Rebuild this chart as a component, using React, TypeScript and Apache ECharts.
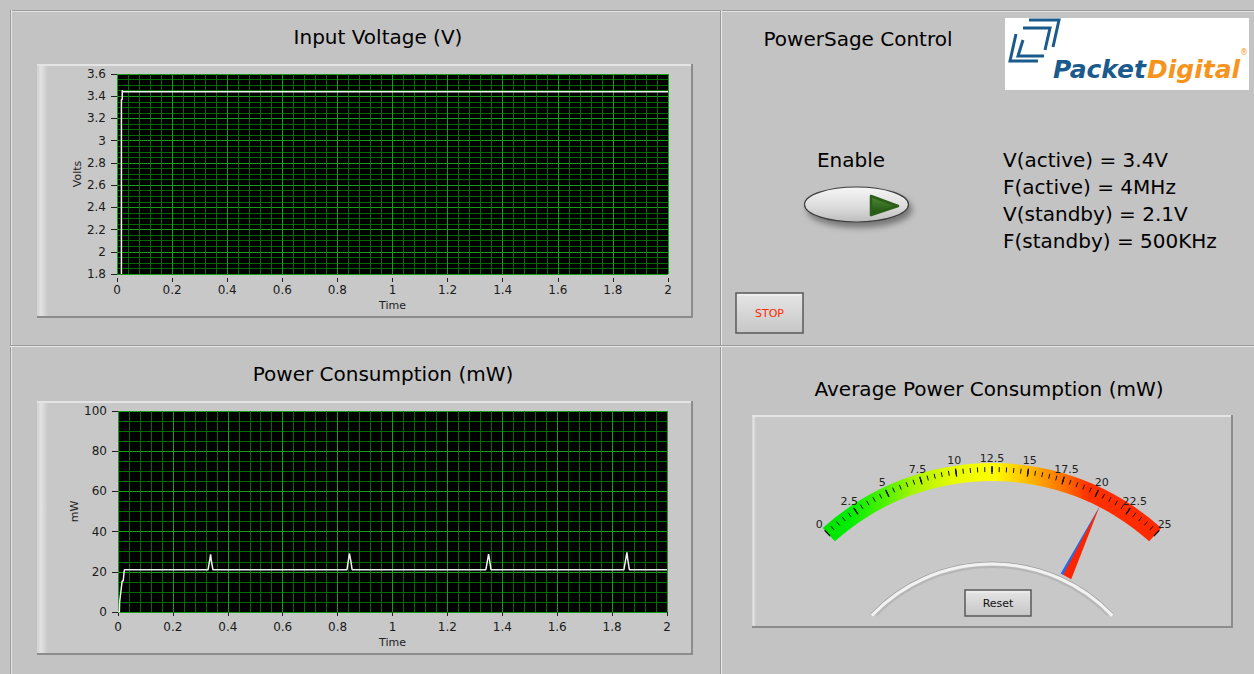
import React, { useEffect, useRef } from 'react';
import * as echarts from 'echarts';

// ---------- data ----------
const voltTime = [0.016, 0.016, 0.019, 0.019, 0.021, 2];
const voltValue = [1.8, 3.37, 3.37, 3.455, 3.44, 3.44];

const powerTime = [0, 0.005, 0.006, 0.015, 0.019, 0.023, 0.328, 0.3375, 0.34, 0.346, 0.834, 0.843, 0.848, 0.853, 1.34, 1.35, 1.354, 1.359, 1.843, 1.854, 1.857, 1.863, 2];
const powerValue = [0, 0, 5, 15.4, 15.4, 21, 21, 28.7, 25.5, 21, 21, 29.1, 25.6, 21, 21, 28.8, 25.5, 21, 21, 29.7, 26.2, 21, 21];

const gaugeValue = 20.8;
const gaugeMin = 0;
const gaugeMax = 25;

const timeRange = [0, 2, 0.2, 0.04]; // min, max, major, minor
const voltRange = [1.8, 3.6, 0.2, 0.05];
const powerRange = [0, 100, 20, 5];

const settingLines = ['V(active) = 3.4V', 'F(active) = 4MHz', 'V(standby) = 2.1V', 'F(standby) = 500KHz'];

const titles = {
  voltage: 'Input Voltage (V)',
  power: 'Power Consumption (mW)',
  control: 'PowerSage Control',
  average: 'Average Power Consumption (mW)',
};

// ---------- styles ----------
const FONT = '"DejaVu Sans", Verdana, sans-serif';
const LG = echarts.graphic.LinearGradient;
const MAJOR_GRID = '#12a012';
const MINOR_GRID = '#006c00';

function bezel(x: number, y: number, w: number, h: number, strip = 11) {
  return [
    { type: 'rect', z: -10, shape: { x, y, width: w, height: h }, style: { fill: '#c8c8c8' } },
    {
      type: 'rect', z: -9, shape: { x, y, width: strip, height: h },
      style: { fill: new LG(0, 0, 1, 0, [{ offset: 0, color: '#d0d0d0' }, { offset: 0.35, color: '#e2e2e2' }, { offset: 1, color: '#c8c8c8' }]) },
    },
    { type: 'line', z: -8, shape: { x1: x, y1: y + 1, x2: x + w, y2: y + 1 }, style: { stroke: '#e4e4e4', lineWidth: 2 } },
    { type: 'line', z: -8, shape: { x1: x + w - 1, y1: y, x2: x + w - 1, y2: y + h }, style: { stroke: '#8c8c8c', lineWidth: 2 } },
    { type: 'line', z: -8, shape: { x1: x, y1: y + h - 1, x2: x + w, y2: y + h - 1 }, style: { stroke: '#8c8c8c', lineWidth: 2 } },
  ];
}

function text(x: number, y: number, t: string, size: number, opts: any = {}) {
  return {
    type: 'text', z: 10, x, y,
    style: {
      text: t, fill: opts.fill || '#000',
      font: `${opts.style || 'normal'} ${opts.weight || 'normal'} ${size}px ${opts.family || FONT}`,
      align: opts.align || 'center', verticalAlign: 'middle',
    },
  };
}

function button(x: number, y: number, w: number, h: number, label: string, color: string, size: number) {
  return [
    {
      type: 'rect', z: 10, shape: { x, y, width: w, height: h },
      style: {
        fill: new LG(0, 0, 0, 1, [{ offset: 0, color: '#e6e6e6' }, { offset: 1, color: '#c6c6c6' }]),
        stroke: '#5a5a5a', lineWidth: 1.5,
      },
    },
    { type: 'line', z: 10, shape: { x1: x + 2, y1: y + 2, x2: x + w - 2, y2: y + 2 }, style: { stroke: '#f4f4f4', lineWidth: 1 } },
    text(x + w / 2, y + h / 2, label, size, { fill: color }),
  ];
}

const gridBase = { show: true, backgroundColor: '#000', borderWidth: 0 };

// minor grid axes come first so that the major grid lines are drawn over them
function minorAxis(gridIndex: number, range: number[], position: string) {
  return {
    type: 'value', gridIndex, position, min: range[0], max: range[1], interval: range[3],
    axisLine: { show: false }, axisTick: { show: false }, axisLabel: { show: false },
    splitLine: { show: true, lineStyle: { color: MINOR_GRID, width: 1 } },
  };
}

function xAxisFor(gridIndex: number, offset: number) {
  return {
    type: 'value', gridIndex, position: 'bottom', min: timeRange[0], max: timeRange[1], interval: timeRange[2], offset,
    name: 'Time', nameLocation: 'middle', nameGap: 22,
    nameTextStyle: { color: '#222', fontSize: 11, fontFamily: FONT },
    axisLine: { show: false },
    axisTick: { show: true, length: 4, lineStyle: { color: '#222', width: 1 } },
    axisLabel: { color: '#1a1a1a', fontSize: 12, fontFamily: FONT, margin: 6 },
    splitLine: { show: true, lineStyle: { color: MAJOR_GRID, width: 1 } },
  };
}

function yAxisFor(gridIndex: number, range: number[], name: string) {
  return {
    type: 'value', gridIndex, position: 'left', min: range[0], max: range[1], interval: range[2], offset: 3,
    name, nameLocation: 'middle', nameGap: 31,
    nameTextStyle: { color: '#222', fontSize: 11, fontFamily: FONT },
    axisLine: { show: false },
    axisTick: { show: true, length: 6, lineStyle: { color: '#222', width: 1 } },
    axisLabel: { color: '#1a1a1a', fontSize: 12, fontFamily: FONT, margin: 8 },
    splitLine: { show: true, lineStyle: { color: MAJOR_GRID, width: 1 } },
  };
}

function buildOption() {
  const gaugeColor = new LG(822, 0, 1163, 0, [
    { offset: 0, color: '#00e000' },
    { offset: 0.08, color: '#00ee00' },
    { offset: 0.19, color: '#55f200' },
    { offset: 0.27, color: '#a8f400' },
    { offset: 0.38, color: '#e6fa00' },
    { offset: 0.5, color: '#ffff00' },
    { offset: 0.56, color: '#ffd800' },
    { offset: 0.62, color: '#ffb000' },
    { offset: 0.72, color: '#ff6800' },
    { offset: 0.78, color: '#ff3000' },
    { offset: 1, color: '#ff2800' },
  ], true);

  const needleColor = new LG(0, 0, 1, 0, [
    { offset: 0, color: '#2a68e0' },
    { offset: 0.22, color: '#2a68e0' },
    { offset: 0.27, color: '#ff2400' },
    { offset: 1, color: '#ff2400' },
  ]);

  const graphics: any[] = [
    // panel grooves
    { type: 'line', z: -5, shape: { x1: 10, y1: 10.5, x2: 1254, y2: 10.5 }, style: { stroke: '#9c9c9c', lineWidth: 1 } },
    { type: 'line', z: -5, shape: { x1: 10, y1: 11.5, x2: 1254, y2: 11.5 }, style: { stroke: '#e2e2e2', lineWidth: 1 } },
    { type: 'line', z: -5, shape: { x1: 10.5, y1: 10, x2: 10.5, y2: 674 }, style: { stroke: '#9c9c9c', lineWidth: 1 } },
    { type: 'line', z: -5, shape: { x1: 11.5, y1: 10, x2: 11.5, y2: 674 }, style: { stroke: '#e2e2e2', lineWidth: 1 } },
    { type: 'line', z: -5, shape: { x1: 720.5, y1: 10, x2: 720.5, y2: 674 }, style: { stroke: '#9a9a9a', lineWidth: 1 } },
    { type: 'line', z: -5, shape: { x1: 721.5, y1: 10, x2: 721.5, y2: 674 }, style: { stroke: '#e6e6e6', lineWidth: 1 } },
    { type: 'line', z: -5, shape: { x1: 10, y1: 345.5, x2: 1254, y2: 345.5 }, style: { stroke: '#9a9a9a', lineWidth: 1 } },
    { type: 'line', z: -5, shape: { x1: 10, y1: 346.5, x2: 1254, y2: 346.5 }, style: { stroke: '#e6e6e6', lineWidth: 1 } },

    ...bezel(37, 64, 656, 254),
    ...bezel(37, 401, 656, 254),
    ...bezel(752, 415, 481, 213, 4),

    text(378, 37, titles.voltage, 20),
    text(383, 374, titles.power, 20),
    text(858, 39, titles.control, 20),
    text(989, 389, titles.average, 20),
    text(851, 160, 'Enable', 20),
    ...settingLines.map((s, i) => text(1003, 160 + i * 27, s, 20, { align: 'left' })),

    // logo
    { type: 'rect', z: 10, shape: { x: 1005, y: 18, width: 244, height: 72 }, style: { fill: '#ffffff' } },
    { type: 'polyline', z: 11, shape: { points: [[1029, 20], [1059, 20], [1053, 47]] }, style: { stroke: '#1b5a8c', lineWidth: 3, fill: null } },
    { type: 'polyline', z: 11, shape: { points: [[1023, 28], [1050, 28], [1045, 50]] }, style: { stroke: '#1b5a8c', lineWidth: 3, fill: null } },
    { type: 'polyline', z: 11, shape: { points: [[1016, 34], [1010, 61], [1038, 61]] }, style: { stroke: '#1b5a8c', lineWidth: 3, fill: null } },
    { type: 'polyline', z: 11, shape: { points: [[1023, 40], [1018, 56], [1044, 56]] }, style: { stroke: '#1b5a8c', lineWidth: 3, fill: null } },
    text(1146, 69, 'Packet', 25, { align: 'right', weight: 'bold', style: 'italic', fill: '#1b5a8c' }),
    text(1147, 69, 'Digital', 25, { align: 'left', weight: 'bold', style: 'italic', fill: '#f7941d' }),
    text(1244, 52, '®', 8, { fill: '#f7941d' }),

    // Enable switch
    {
      type: 'ellipse', z: 10, shape: { cx: 856.5, cy: 204.5, rx: 52, ry: 17.5 },
      style: {
        fill: new LG(0, 0, 0, 1, [{ offset: 0, color: '#f6f6f6' }, { offset: 0.6, color: '#dadada' }, { offset: 1, color: '#bdbdbd' }]),
        stroke: '#3c3c3c', lineWidth: 1.2,
        shadowBlur: 6, shadowColor: 'rgba(0,0,0,0.4)', shadowOffsetX: 3, shadowOffsetY: 5,
      },
    },
    {
      type: 'polygon', z: 11, shape: { points: [[871, 196], [898, 206], [871, 215]] },
      style: {
        fill: new LG(0, 0, 0, 1, [{ offset: 0, color: '#4f8c35' }, { offset: 1, color: '#1f5010' }]),
        stroke: '#2b5e19', lineWidth: 2.5, lineJoin: 'round',
      },
    },

    ...button(736, 293, 67, 40, 'STOP', '#ff2a00', 11),
    ...button(965, 590, 66, 26, 'Reset', '#111', 11),

    // gauge bezel hump
    { type: 'arc', z: 5, shape: { cx: 992, cy: 730, r: 168, startAngle: -2.38, endAngle: -0.76 }, style: { stroke: '#a4a4a4', lineWidth: 1, fill: null } },
    { type: 'arc', z: 5, shape: { cx: 992, cy: 730, r: 166, startAngle: -2.38, endAngle: -0.76 }, style: { stroke: '#f2f2f2', lineWidth: 3, fill: null } },
    { type: 'arc', z: 5, shape: { cx: 992, cy: 730, r: 163, startAngle: -2.36, endAngle: -0.78 }, style: { stroke: '#b6b6b6', lineWidth: 2, fill: null } },
  ];

  return {
    animation: false,
    grid: [
      { ...gridBase, left: 117, top: 74, width: 551, height: 200 },
      { ...gridBase, left: 118, top: 411, width: 549, height: 201 },
    ],
    xAxis: [minorAxis(0, timeRange, 'top'), minorAxis(1, timeRange, 'top'), xAxisFor(0, 4), xAxisFor(1, 3)],
    yAxis: [minorAxis(0, voltRange, 'right'), minorAxis(1, powerRange, 'right'), yAxisFor(0, voltRange, 'Volts'), yAxisFor(1, powerRange, 'mW')],
    graphic: { elements: graphics },
    series: [
      {
        type: 'line', xAxisIndex: 2, yAxisIndex: 2, showSymbol: false, symbol: 'none', z: 5,
        lineStyle: { color: '#f0f0f0', width: 1.5 },
        data: voltTime.map((t, i) => [t, voltValue[i]]),
      },
      {
        type: 'line', xAxisIndex: 3, yAxisIndex: 3, showSymbol: false, symbol: 'none', z: 5,
        lineStyle: { color: '#f0f0f0', width: 1.5 },
        data: powerTime.map((t, i) => [t, powerValue[i]]),
      },
      {
        type: 'gauge', center: [992, 716], radius: 253, startAngle: 132, endAngle: 48,
        min: gaugeMin, max: gaugeMax, splitNumber: 10,
        axisLine: { show: true, roundCap: false, lineStyle: { width: 18, color: [[1, gaugeColor]] } },
        axisTick: { show: true, splitNumber: 5, length: 5, distance: -14, lineStyle: { color: '#111', width: 1 } },
        splitLine: { show: true, length: 8, distance: -15, lineStyle: { color: '#111', width: 1.3 } },
        axisLabel: { show: true, distance: 2, rotate: 0.001, color: '#222', fontSize: 11, fontFamily: FONT },
        pointer: {
          show: true, icon: 'path://M3 0 L12 78 L0 78 Z M6 236 L6.01 236 Z',
          length: 236, width: 12, keepAspect: false, offsetCenter: [0, 0],
          itemStyle: { color: needleColor },
        },
        anchor: { show: false }, title: { show: false }, detail: { show: false }, progress: { show: false },
        data: [{ value: gaugeValue }],
      },
    ],
  };
}

export default function App() {
  const ref = useRef<HTMLDivElement>(null);
  useEffect(() => {
    if (!ref.current) return;
    const chart = echarts.init(ref.current, null, { renderer: 'svg' });
    chart.setOption(buildOption() as any);
    return () => chart.dispose();
  }, []);
  return (
    <div
      ref={ref}
      style={{ position: 'fixed', left: 0, top: 0, width: 1254, height: 674, background: '#c3c3c3' }}
    />
  );
}
